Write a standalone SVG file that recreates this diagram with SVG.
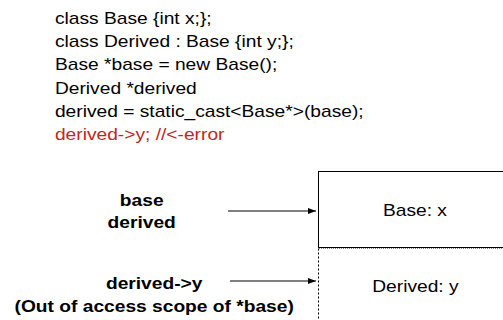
<svg xmlns="http://www.w3.org/2000/svg" width="503" height="320" viewBox="0 0 503 320">
<defs>
<style>
.code{font-family:"Liberation Sans",Arial,sans-serif;font-size:16px;fill:#000}
.red{fill:#c0281c}
.lbl{font-family:"Liberation Sans",Arial,sans-serif;font-size:16px;font-weight:bold;fill:#000;text-anchor:middle}
.box{font-family:"Liberation Sans",Arial,sans-serif;font-size:16px;fill:#000;text-anchor:middle}
.conn{stroke:#000;stroke-width:1;fill:none}
</style>
<marker id="ah" viewBox="0 0 8 6" refX="8" refY="3" markerWidth="8" markerHeight="6" orient="auto" markerUnits="userSpaceOnUse">
<path d="M0,0 L8,3 L0,6 z" fill="#000"/>
</marker>
</defs>
<rect width="503" height="320" fill="#fff"/>
<g id="code" transform="scale(1.2,1)">
<text class="code" x="45.8" y="24">class Base {int x;};</text>
<text class="code" x="45.8" y="47">class Derived : Base {int y;};</text>
<text class="code" x="45.8" y="70">Base *base = new Base();</text>
<text class="code" x="45.8" y="94">Derived *derived</text>
<text class="code" x="45.8" y="117">derived = static_cast&lt;Base*&gt;(base);</text>
<text class="code red" x="45.8" y="140">derived-&gt;y; //&lt;-error</text>
</g>
<g id="ptr-label" transform="scale(1.2,1)">
<text class="lbl" x="118.1" y="206">base</text>
<text class="lbl" x="118.1" y="228">derived</text>
</g>
<g id="access-label" transform="scale(1.2,1)">
<text class="lbl" x="128.5" y="289">derived-&gt;y</text>
<text class="lbl red" x="128.5" y="312">(Out of access scope of *base)</text>
</g>
<g id="base-box">
<rect x="318.5" y="171.5" width="190" height="76" fill="#fff" stroke="#000" stroke-width="1"/>
<text class="box" x="345.8" y="216" transform="scale(1.2,1)">Base: x</text>
</g>
<g id="derived-box">
<path d="M318.5,248.5 V320" stroke="#000" stroke-dasharray="2,2" fill="none"/>
<path d="M319,248.5 H503" stroke="#888" stroke-dasharray="1,1" fill="none"/>
<text class="box" x="346.2" y="292" transform="scale(1.2,1)">Derived: y</text>
</g>
<g id="connectors">
<line class="conn" x1="228" y1="211" x2="316" y2="211" marker-end="url(#ah)"/>
<line class="conn" x1="230" y1="281" x2="316" y2="281" marker-end="url(#ah)"/>
</g>
</svg>
